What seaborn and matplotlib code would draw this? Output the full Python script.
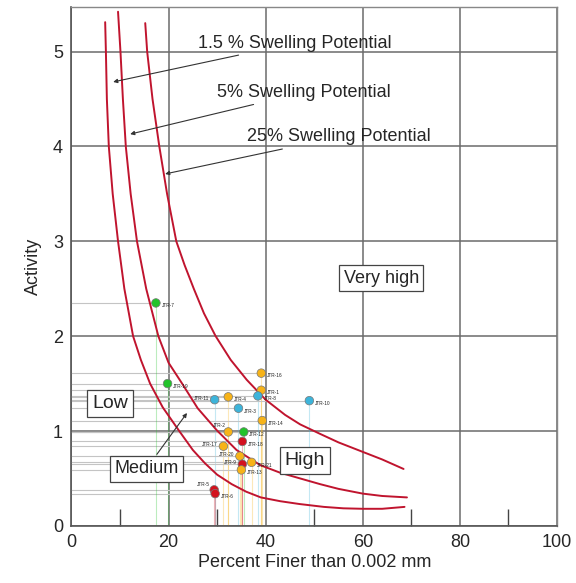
import numpy as np
import pandas as pd
import matplotlib
matplotlib.use('Agg')
import matplotlib.pyplot as plt
import seaborn as sns

# sample points (percent finer than 0.002 mm, activity)
names = ['JTR-16', 'JTR-1', 'JTR-8', 'JTR-10', 'JTR-4', 'JTR-11', 'JTR-19', 'JTR-3',
         'JTR-14', 'JTR-2', 'JTR-12', 'JTR-18', 'JTR-17', 'JTR-20', 'JTR-21', 'JTR-9',
         'JTR-13', 'JTR-5', 'JTR-6', 'JTR-7']
clay = [39.1, 39.1, 38.4, 49.0, 32.3, 29.5, 19.8, 34.4,
        39.3, 32.3, 35.5, 35.2, 31.3, 34.7, 37.1, 35.2,
        35.0, 29.4, 29.6, 17.4]
activity = [1.61, 1.43, 1.37, 1.32, 1.36, 1.33, 1.50, 1.24,
            1.11, 0.99, 0.99, 0.89, 0.84, 0.735, 0.67, 0.65,
            0.59, 0.38, 0.34, 2.35]
group = ['orange', 'orange', 'blue', 'blue', 'orange', 'blue', 'green', 'blue',
         'orange', 'orange', 'green', 'red', 'orange', 'orange', 'orange', 'red',
         'orange', 'red', 'red', 'green']

# swelling potential curves
c15_x = [6.95, 7.1, 7.3, 7.7, 8.5, 9.6, 10.9, 12.7, 14.3, 16.2, 18.8, 22.2, 25.0, 27.5,
         30.0, 33.0, 36.0, 39.0, 43.0, 47.0, 52.0, 56.0, 60.0, 64.0, 68.6]
c15_y = [5.31, 5.0, 4.5, 4.0, 3.5, 3.0, 2.5, 2.0, 1.75, 1.5, 1.25, 1.0, 0.80, 0.66,
         0.54, 0.44, 0.36, 0.30, 0.26, 0.23, 0.20, 0.185, 0.18, 0.18, 0.20]
c5_x = [9.6, 10.1, 10.6, 11.2, 12.2, 13.5, 15.4, 17.9, 20.0, 22.8, 26.0, 29.9, 34.0,
        38.9, 43.0, 47.1, 51.2, 55.0, 60.0, 64.0, 69.1]
c5_y = [5.42, 5.0, 4.5, 4.0, 3.5, 3.0, 2.5, 2.0, 1.72, 1.5, 1.24, 1.01, 0.80,
        0.64, 0.56, 0.50, 0.44, 0.39, 0.34, 0.315, 0.30]
c25_x = [15.2, 15.6, 16.7, 18.1, 19.7, 21.6, 23.3, 25.2, 27.3, 29.7, 32.8, 36.1, 40.0,
         44.0, 47.1, 51.2, 55.0, 60.0, 64.0, 68.4]
c25_y = [5.30, 5.0, 4.5, 4.0, 3.5, 3.0, 2.75, 2.5, 2.24, 2.0, 1.75, 1.54, 1.33,
         1.17, 1.07, 0.97, 0.88, 0.78, 0.70, 0.60]

palette = {'orange': '#F7B318', 'blue': '#3DB4DA', 'green': '#22C32A', 'red': '#D3121E'}

df = pd.DataFrame({'name': names, 'clay': clay, 'activity': activity, 'group': group})

sns.set_theme(style='white')
plt.rcParams['font.family'] = ['Liberation Sans', 'DejaVu Sans']

fig = plt.figure(figsize=(5.76, 5.83), dpi=100)
ax = fig.add_axes([0.124, 0.098, 0.843, 0.89])

# projection lines to the axes
for x, y, g in zip(clay, activity, group):
    ax.plot([0, x], [y, y], color='#c4c4c4', lw=0.8, zorder=1)
    ax.plot([x, x], [0, y], color=palette[g], alpha=0.3, lw=0.8, zorder=1)

curve_red = '#C0142E'
for cx, cy in [(c15_x, c15_y), (c5_x, c5_y), (c25_x, c25_y)]:
    sns.lineplot(x=cx, y=cy, ax=ax, color=curve_red, lw=1.4, sort=False, zorder=3)

sns.scatterplot(data=df, x='clay', y='activity', hue='group', palette=palette,
                s=38, edgecolor='#777777', linewidth=0.5, legend=False, ax=ax, zorder=4)

left_labels = {'JTR-11': (-4, 1), 'JTR-2': (-2, 5), 'JTR-17': (-4, 1), 'JTR-20': (-4, 1),
               'JTR-9': (-4, 1), 'JTR-5': (-3, 4)}
for n, x, y in zip(names, clay, activity):
    if n in left_labels:
        ax.annotate(n, (x, y), xytext=left_labels[n], textcoords='offset points',
                    ha='right', va='center', fontsize=3.4, color='#222222', zorder=5)
    else:
        ax.annotate(n, (x, y), xytext=(4, -2), textcoords='offset points',
                    ha='left', va='center', fontsize=3.4, color='#222222', zorder=5)

# curve annotations
arrow = dict(arrowstyle='-|>', color='#333333', lw=0.8, mutation_scale=6, shrinkA=1, shrinkB=0)
ax.annotate('1.5 % Swelling Potential', xy=(8.6, 4.68), xytext=(26.1, 5.09),
            fontsize=13, va='center', ha='left', arrowprops=arrow, zorder=6)
ax.annotate('5% Swelling Potential', xy=(12.1, 4.13), xytext=(30.0, 4.57),
            fontsize=13, va='center', ha='left', arrowprops=arrow, zorder=6)
ax.annotate('25% Swelling Potential', xy=(19.3, 3.71), xytext=(36.2, 4.10),
            fontsize=13, va='center', ha='left', arrowprops=arrow, zorder=6)

box = dict(boxstyle='square,pad=0.25', fc='white', ec='#444444', lw=0.9)
ax.text(63.8, 2.61, 'Very high', fontsize=13, ha='center', va='center', bbox=box, zorder=6)
ax.text(8.0, 1.29, 'Low', fontsize=14, ha='center', va='center', bbox=box, zorder=6)
ax.text(48.1, 0.69, 'High', fontsize=14, ha='center', va='center', bbox=box, zorder=6)
ax.annotate('Medium', xy=(23.8, 1.19), xytext=(15.4, 0.60), fontsize=13,
            ha='center', va='center', bbox=box, arrowprops=arrow, zorder=6)

ax.set_xlim(0, 100)
ax.set_ylim(0, 5.47)
ax.set_xticks([0, 20, 40, 60, 80, 100])
ax.set_yticks([0, 1, 2, 3, 4, 5])
ax.set_xticks([10, 30, 50, 70, 90], minor=True)
ax.tick_params(axis='both', which='major', length=0, labelsize=13, pad=6)
ax.tick_params(axis='x', which='minor', direction='in', length=12, width=1, color='#444444',
               bottom=True)
ax.grid(True, which='major', color='#6b6b6b', lw=1.1)
ax.set_axisbelow(True)
for s in ['left', 'bottom']:
    ax.spines[s].set_color('#555555')
    ax.spines[s].set_linewidth(1.2)
for s in ['top', 'right']:
    ax.spines[s].set_color('#888888')
    ax.spines[s].set_linewidth(1.0)

ax.set_xlabel('Percent Finer than 0.002 mm', fontsize=13, labelpad=2)
ax.set_ylabel('Activity', fontsize=13, labelpad=8)

fig.savefig('out.png', dpi=100)
